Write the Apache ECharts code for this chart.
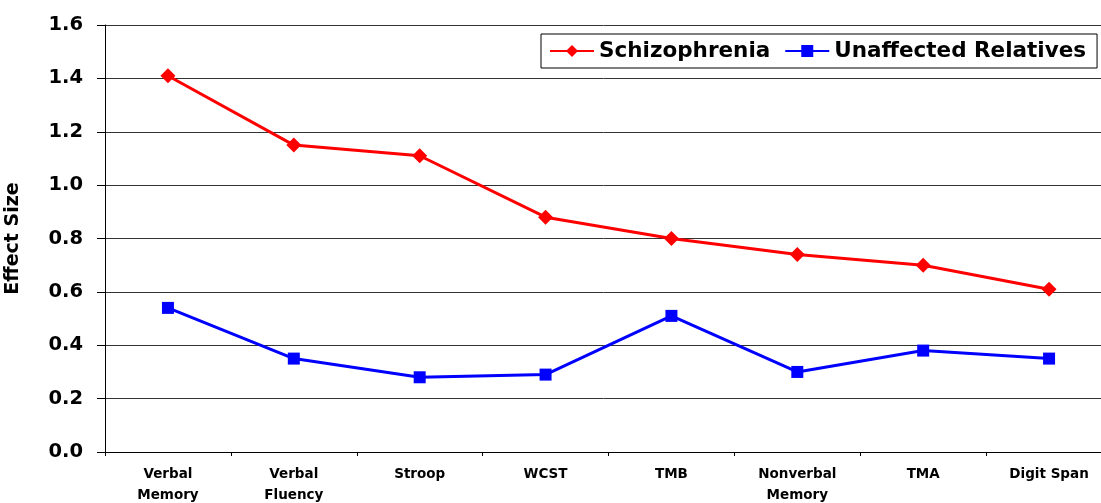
<!DOCTYPE html>
<html><head><meta charset="utf-8">
<script src="https://cdn.jsdelivr.net/npm/echarts@6/dist/echarts.min.js"></script>
<style>html,body{margin:0;padding:0;background:#fff}#c{width:1101px;height:503px}</style>
</head><body><div id="c"></div>
<script>
const categories = ['Verbal\nMemory','Verbal\nFluency','Stroop','WCST','TMB','Nonverbal\nMemory','TMA','Digit Span'];
const schizophrenia = [1.41, 1.15, 1.11, 0.88, 0.80, 0.74, 0.70, 0.61];
const relatives = [0.54, 0.35, 0.28, 0.29, 0.51, 0.30, 0.38, 0.35];
const chart = echarts.init(document.getElementById('c'));
chart.setOption({
  animation: false,
  backgroundColor: '#fff',
  grid: {left: 105, top: 25, width: 1007, height: 427, containLabel: false, outerBoundsMode: 'none'},
  legend: {
    left: 541, top: 34, padding: [6, 11, 6, 8], itemGap: 14,
    borderColor: '#000', borderWidth: 1, backgroundColor: '#fff',
    itemWidth: 44, itemHeight: 15,
    textStyle: {fontFamily: 'DejaVu Sans', fontWeight: 'bold', fontSize: 21.5, color: '#000', padding: [0,0,0,0]},
    data: ['Schizophrenia', 'Unaffected Relatives']
  },
  xAxis: {
    type: 'category', data: categories, boundaryGap: true,
    axisLine: {lineStyle: {color: '#000', width: 1}},
    axisTick: {show: true, length: 4, lineStyle: {color: '#000'}},
    axisLabel: {fontFamily: 'DejaVu Sans', fontWeight: 'bold', fontSize: 13.5, color: '#000', margin: 12, lineHeight: 21, interval: 0}
  },
  yAxis: {
    type: 'value', min: 0, max: 1.6, interval: 0.2,
    name: 'Effect Size', nameLocation: 'middle', nameGap: 82, nameRotate: 90,
    nameTextStyle: {fontFamily: 'DejaVu Sans', fontWeight: 'bold', fontSize: 19, color: '#000'},
    axisLine: {show: true, lineStyle: {color: '#000', width: 1}},
    axisTick: {show: true, length: 8, lineStyle: {color: '#000'}},
    axisLabel: {formatter: v => v.toFixed(1), fontFamily: 'DejaVu Sans', fontWeight: 'bold', fontSize: 19.5, color: '#000', margin: 22},
    splitLine: {lineStyle: {color: '#333', width: 1}}
  },
  series: [
    {name: 'Schizophrenia', type: 'line', data: schizophrenia, symbol: 'diamond', symbolSize: 15,
     lineStyle: {color: '#ff0000', width: 3}, itemStyle: {color: '#ff0000'}},
    {name: 'Unaffected Relatives', type: 'line', data: relatives, symbol: 'rect', symbolSize: 12,
     lineStyle: {color: '#0000ff', width: 3}, itemStyle: {color: '#0000ff'}}
  ]
});
</script></body></html>
